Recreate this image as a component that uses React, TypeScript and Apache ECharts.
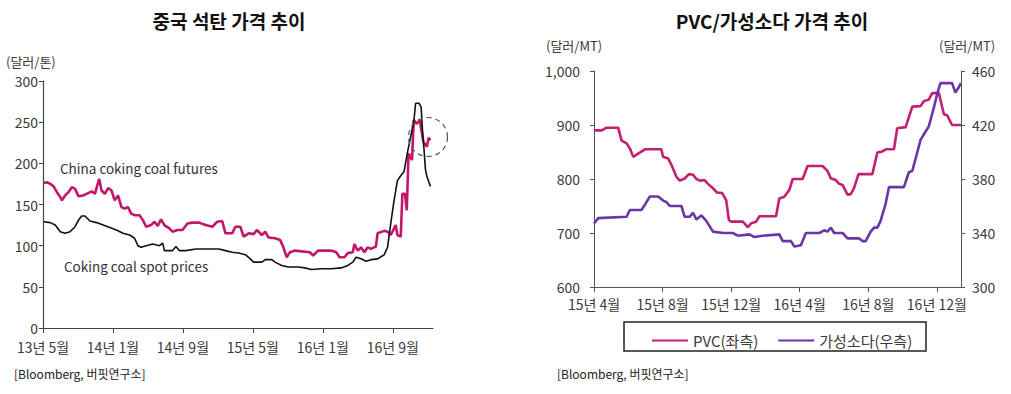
import React, { useEffect, useRef } from "react";
import * as echarts from "echarts";

// ---- Left chart: 중국 석탄 가격 추이 (x = months since 2013-05) ----
const futuresMonths = [0.08,0.45,0.83,1.21,1.59,1.97,2.16,2.53,2.91,3.29,3.67,4.05,4.61,4.99,5.56,5.94,6.31,6.43,6.69,7.07,7.45,7.83,8.2,8.58,8.96,9.34,9.72,10.09,10.47,11.04,11.42,11.8,12.36,12.74,13.12,13.5,13.88,14.44,14.82,15.39,15.95,16.52,17.09,17.85,18.6,19.36,19.92,20.49,20.87,21.63,22.0,22.57,22.95,23.52,24.08,24.46,25.03,25.41,25.78,26.54,27.11,27.49,27.86,28.24,28.81,30.51,30.89,31.46,32.4,32.97,33.54,33.91,34.48,34.86,35.43,35.61,35.99,36.37,36.75,37.13,37.5,38.07,38.26,39.02,39.4,39.77,40.34,40.53,40.91,41.1,41.4,41.6,41.8,42.2,42.4,42.7,43.1,43.5,43.9,44.1,44.3];
const futuresValues = [176,177,175,172,165,159,155,161,165,171,169,160,161,163,166,163,177,181,167,163,170,167,155,161,147,145,147,139,137,137,131,123,125,129,124,132,125,121,117,119,119,127,128,128,125,123,129,130,115,115,123,123,111,115,114,119,113,117,110,109,107,98,86,92,94,92,88,94,94,94,92,86,86,91,92,102,94,98,92,98,96,99,115,118,117,113,125,113,111,163,163,143,212,204,253,248,252,226,220,231,228];

const spotMonths = [0.08,0.83,1.4,1.97,2.53,3.1,3.67,4.05,4.42,4.8,5.37,6.12,6.88,7.64,8.39,9.15,9.91,10.47,10.85,11.23,11.8,12.55,13.31,13.69,13.88,14.82,15.2,15.58,16.33,17.47,18.6,20.11,20.87,21.63,22.38,23.14,23.71,24.08,25.03,25.41,26.16,26.54,27.3,28.05,29.19,29.94,30.7,31.83,32.97,34.1,34.86,35.43,35.8,36.37,36.94,37.5,38.26,39.02,39.4,39.77,40.15,40.53,40.91,41.29,41.66,42.04,42.42,42.61,42.99,43.25,43.37,43.55,43.74,43.93,44.31];
const spotValues = [129,128,125,117,115,117,123,131,136,136,130,128,125,122,119,115,113,109,100,98,100,102,100,103,94,94,99,94,94,96,96,96,94,92,91,89,84,80,80,83,83,80,76,74,74,73,71,72,72,73,76,80,86,84,81,83,84,89,98,127,155,179,185,190,212,232,252,273,273,268,244,220,192,183,172];

const leftTickMonths = [0, 8, 16, 24, 32, 40];

// ---- Right chart: PVC/가성소다 가격 추이 (x = months since 2015-04) ----
const pvcMonths = [0,0.45,0.74,1.41,1.61,1.9,2.09,2.29,2.58,2.97,3.93,4.03,4.32,4.52,4.81,5.0,5.29,5.54,5.78,5.97,6.2,6.45,6.65,6.94,7.17,7.48,7.71,7.87,8.0,8.68,8.97,9.17,9.46,9.65,10.62,10.81,11.1,11.4,11.59,12.17,12.46,13.33,13.62,13.82,14.11,14.3,14.5,14.79,14.98,15.17,15.43,16.24,16.53,16.82,17.02,17.5,17.69,18.18,18.57,19.05,19.24,19.53,19.73,20.12,20.41,20.6,20.89,21.41];
const pvcValues = [890,890,895,895,871,866,857,841,847,855,855,841,838,826,804,797,801,809,808,800,797,798,791,783,775,774,761,724,721,721,711,718,721,731,731,764,767,780,800,800,824,824,815,801,798,791,789,771,772,783,809,809,849,851,855,855,894,896,934,935,944,947,959,959,920,918,900,900];

const causticMonths = [0,0.25,1.9,2.09,2.77,2.97,3.26,3.74,4.03,4.22,4.42,5.1,5.29,5.58,5.78,5.97,6.26,6.55,6.94,7.52,8.1,8.39,9.07,9.36,9.84,10.81,11.01,11.49,11.69,12.07,12.36,13.14,13.43,13.62,13.82,14.01,14.5,14.79,15.47,15.66,15.85,16.14,16.34,16.53,16.72,17.02,17.21,18.08,18.37,18.57,18.76,19.05,19.24,19.53,19.83,20.02,20.21,20.89,21.08,21.28,21.41];
const causticValues = [347,351,352,357,357,361,367,367,364,363,360,360,352,352,355,350,353,349,341,340,340,338,339,337,338,339,334,334,330,331,340,340,342,341,344,340,340,336,336,334,334,341,344,344,349,362,374,374,385,386,395,409,413,419,433,443,451,451,444,448,451];

const rightTickMonths = [0, 4, 8, 12, 16, 20];

const FONT = "'Noto Sans CJK KR', 'Noto Sans', sans-serif";
const TXT = "#3a3a3a";
const MAGENTA = "#C2166B";
const PVC = "#C41F73";
const PURPLE = "#6B35A8";

const zip = (xs: number[], ys: number[]) => xs.map((x, i) => [x, ys[i]]);

function monthLabel(startYear: number, startMonth: number) {
  return (v: number) => {
    const total = startMonth - 1 + Math.round(v);
    const y = startYear + Math.floor(total / 12);
    const m = (total % 12) + 1;
    return `${y % 100}년 ${m}월`;
  };
}

export default function App() {
  const ref = useRef<HTMLDivElement>(null);
  useEffect(() => {
    document.body.style.margin = "0";
    const chart = echarts.init(ref.current!, undefined, { renderer: "svg" });
    const axisLineGray = { lineStyle: { color: "#555", width: 1 } };
    chart.setOption({
      animation: false,
      textStyle: { fontFamily: FONT },
      grid: [
        { left: 43, top: 81, width: 390, height: 247 },
        { left: 594, top: 71, width: 367, height: 216 },
      ],
      xAxis: [
        {
          type: "value", gridIndex: 0, min: 0, max: 44.6,
          axisLine: { show: true, lineStyle: { color: "#444", width: 1.2 } },
          axisTick: { show: true, length: 5, customValues: leftTickMonths, lineStyle: { color: "#444" } },
          axisLabel: { customValues: leftTickMonths, formatter: monthLabel(2013, 5), color: TXT, fontSize: 14, lineHeight: 15, margin: 11, fontFamily: FONT },
          splitLine: { show: false },
        },
        {
          type: "value", gridIndex: 1, min: 0, max: 21.41,
          axisLine: { show: true, ...axisLineGray },
          axisTick: { show: true, length: 5, customValues: rightTickMonths, lineStyle: { color: "#555" } },
          axisLabel: { customValues: rightTickMonths, formatter: monthLabel(2015, 4), color: TXT, fontSize: 14, margin: 10, fontFamily: FONT },
          splitLine: { show: false },
        },
      ],
      yAxis: [
        {
          type: "value", gridIndex: 0, min: 0, max: 300, interval: 50,
          axisLine: { show: true, lineStyle: { color: "#444", width: 1.2 } },
          axisTick: { show: true, length: 4, lineStyle: { color: "#444" } },
          axisLabel: { color: TXT, fontSize: 14, lineHeight: 14, margin: 5, fontFamily: FONT },
          splitLine: { show: false },
        },
        {
          type: "value", gridIndex: 1, min: 600, max: 1000, interval: 100, position: "left",
          axisLine: { show: true, ...axisLineGray },
          axisTick: { show: true, length: 4, lineStyle: { color: "#555" } },
          axisLabel: { color: TXT, fontSize: 14, margin: 14, fontFamily: FONT, formatter: (v: number) => v.toLocaleString("en-US") },
          splitLine: { show: false },
        },
        {
          type: "value", gridIndex: 1, min: 300, max: 460, interval: 40, position: "right",
          axisLine: { show: true, ...axisLineGray },
          axisTick: { show: true, length: 4, lineStyle: { color: "#555" } },
          axisLabel: { color: TXT, fontSize: 14, margin: 11, fontFamily: FONT },
          splitLine: { show: false },
        },
      ],
      legend: {
        left: 647, top: 328, itemWidth: 36, itemHeight: 2, itemGap: 20,
        icon: "rect",
        textStyle: { color: TXT, fontSize: 15, fontFamily: FONT },
        data: ["PVC(좌측)", "가성소다(우측)"],
      },
      series: [
        {
          name: "China coking coal futures", type: "line", xAxisIndex: 0, yAxisIndex: 0,
          showSymbol: false, data: zip(futuresMonths, futuresValues),
          lineStyle: { color: MAGENTA, width: 2.6 }, itemStyle: { color: MAGENTA }, z: 2,
        },
        {
          name: "Coking coal spot prices", type: "line", xAxisIndex: 0, yAxisIndex: 0,
          showSymbol: false, data: zip(spotMonths, spotValues),
          lineStyle: { color: "#111", width: 1.6 }, itemStyle: { color: "#111" }, z: 3,
        },
        {
          name: "PVC(좌측)", type: "line", xAxisIndex: 1, yAxisIndex: 1,
          showSymbol: false, data: zip(pvcMonths, pvcValues),
          lineStyle: { color: PVC, width: 2.6 }, itemStyle: { color: PVC },
        },
        {
          name: "가성소다(우측)", type: "line", xAxisIndex: 1, yAxisIndex: 2,
          showSymbol: false, data: zip(causticMonths, causticValues),
          lineStyle: { color: PURPLE, width: 2.6 }, itemStyle: { color: PURPLE },
        },
      ],
      graphic: [
        { type: "text", x: 229, y: 20, style: { text: "중국 석탄 가격 추이", fontSize: 19, fontWeight: "bold", fill: "#111", fontFamily: FONT, align: "center", verticalAlign: "middle" } },
        { type: "text", x: 772, y: 20, style: { text: "PVC/가성소다 가격 추이", fontSize: 19, fontWeight: "bold", fill: "#111", fontFamily: FONT, align: "center", verticalAlign: "middle" } },
        { type: "text", left: 6, top: 55, style: { text: "(달러/톤)", fontSize: 13, fill: TXT, fontFamily: FONT } },
        { type: "text", left: 546, top: 39, style: { text: "(달러/MT)", fontSize: 13, fill: TXT, fontFamily: FONT } },
        { type: "text", left: 939, top: 39, style: { text: "(달러/MT)", fontSize: 13, fill: TXT, fontFamily: FONT } },
        { type: "text", left: 60, top: 161, style: { text: "China coking coal futures", fontSize: 13.5, fill: "#333", fontFamily: FONT } },
        { type: "text", left: 64, top: 259, style: { text: "Coking coal spot prices", fontSize: 13.5, fill: "#333", fontFamily: FONT } },
        { type: "circle", shape: { cx: 428, cy: 137, r: 19.5 }, style: { fill: "none", stroke: "#555", lineWidth: 1.2, lineDash: [5, 4] }, z: 10 },
        { type: "rect", shape: { x: 624, y: 322, width: 302, height: 29 }, style: { fill: "none", stroke: "#222", lineWidth: 1.5 } },
        { type: "text", left: 14, top: 367, style: { text: "[Bloomberg, 버핏연구소]", fontSize: 12, fill: "#222", fontFamily: FONT } },
        { type: "text", left: 557, top: 367, style: { text: "[Bloomberg, 버핏연구소]", fontSize: 12, fill: "#222", fontFamily: FONT } },
      ],
    });
    return () => chart.dispose();
  }, []);
  return <div ref={ref} style={{ position: "fixed", left: 0, top: 0, width: 1011, height: 394, background: "#fff" }} />;
}
